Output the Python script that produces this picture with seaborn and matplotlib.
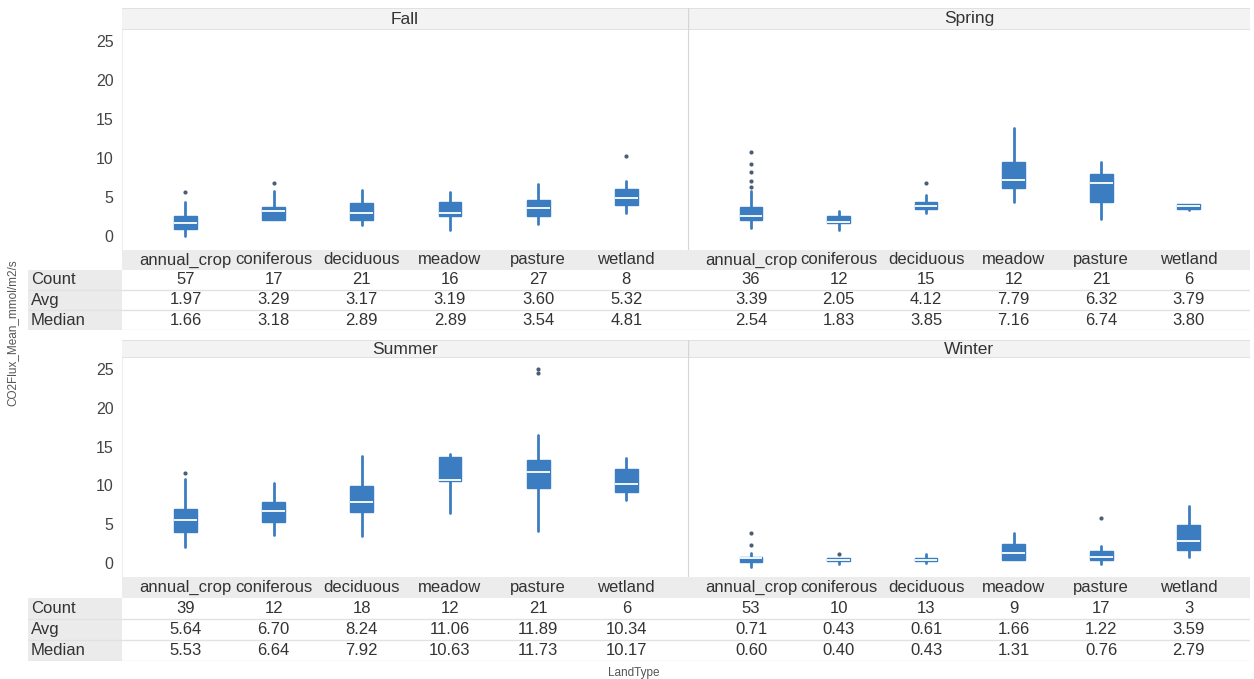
import matplotlib
matplotlib.use('Agg')
import matplotlib.pyplot as plt
from matplotlib.colors import ListedColormap
import numpy as np
import seaborn as sns

# %% DATA

land_types = ['annual_crop', 'coniferous', 'deciduous', 'meadow', 'pasture', 'wetland']
seasons = ['Fall', 'Spring', 'Summer', 'Winter']
row_names = ['Count', 'Avg', 'Median']

count_fall = [57, 17, 21, 16, 27, 8]
count_spring = [36, 12, 15, 12, 21, 6]
count_summer = [39, 12, 18, 12, 21, 6]
count_winter = [53, 10, 13, 9, 17, 3]

avg_fall = [1.97, 3.29, 3.17, 3.19, 3.60, 5.32]
avg_spring = [3.39, 2.05, 4.12, 7.79, 6.32, 3.79]
avg_summer = [5.64, 6.70, 8.24, 11.06, 11.89, 10.34]
avg_winter = [0.71, 0.43, 0.61, 1.66, 1.22, 3.59]

median_fall = [1.66, 3.18, 2.89, 2.89, 3.54, 4.81]
median_spring = [2.54, 1.83, 3.85, 7.16, 6.74, 3.80]
median_summer = [5.53, 6.64, 7.92, 10.63, 11.73, 10.17]
median_winter = [0.60, 0.40, 0.43, 1.31, 0.76, 2.79]

q1_fall = [0.9, 2.0, 2.05, 2.5, 2.5, 4.0]
q3_fall = [2.5, 3.7, 4.2, 4.3, 4.6, 6.0]
lo_fall = [0.0, 2.0, 1.4, 0.8, 1.5, 2.9]
hi_fall = [4.4, 5.8, 5.9, 5.6, 6.6, 7.0]
out_fall = [[5.6], [6.8], [], [], [], [10.2]]

q1_spring = [2.05, 1.7, 3.4, 6.2, 4.3, 3.5]
q3_spring = [3.75, 2.6, 4.3, 9.5, 8.0, 4.1]
lo_spring = [1.0, 0.8, 2.9, 4.4, 2.2, 3.3]
hi_spring = [5.7, 3.2, 5.3, 13.9, 9.5, 4.15]
out_spring = [[6.3, 7.05, 8.2, 9.2, 10.7], [], [6.8], [], [], []]

q1_summer = [4.05, 5.25, 6.6, 10.5, 9.6, 9.2]
q3_summer = [7.0, 7.9, 9.95, 13.7, 13.3, 12.05]
lo_summer = [2.1, 3.6, 3.5, 6.4, 4.1, 8.1]
hi_summer = [10.8, 10.3, 13.8, 14.0, 16.5, 13.5]
out_summer = [[11.6], [], [], [], [24.5, 25.0], []]

q1_winter = [0.15, 0.2, 0.3, 0.4, 0.35, 1.7]
q3_winter = [0.8, 0.6, 0.7, 2.5, 1.5, 4.9]
lo_winter = [-0.5, -0.1, 0.0, 0.4, -0.1, 0.8]
hi_winter = [1.35, 0.65, 1.15, 3.9, 2.25, 7.35]
out_winter = [[2.35, 3.85], [1.2], [], [], [5.8], []]

counts = [count_fall, count_spring, count_summer, count_winter]
avgs = [avg_fall, avg_spring, avg_summer, avg_winter]
medians = [median_fall, median_spring, median_summer, median_winter]
q1s = [q1_fall, q1_spring, q1_summer, q1_winter]
q3s = [q3_fall, q3_spring, q3_summer, q3_winter]
los = [lo_fall, lo_spring, lo_summer, lo_winter]
his = [hi_fall, hi_spring, hi_summer, hi_winter]
outs = [out_fall, out_spring, out_summer, out_winter]

# %% STYLE / LAYOUT

sns.set_style('white')
plt.rcParams['font.family'] = ['Liberation Sans', 'DejaVu Sans']

BLUE = '#3b7dc0'
TXT = '#333333'
W, H = 1254, 679
XLIM = (-0.72, 5.7)
YLIM = (-1.8, 26.4)

fig = plt.figure(figsize=(W / 100, H / 100), dpi=100)


def rect(x0, y0, x1, y1):
    # pixel box (top-left origin) -> figure fraction
    return [x0 / W, 1 - y1 / H, (x1 - x0) / W, (y1 - y0) / H]


def clean(ax):
    ax.set_xticks([])
    ax.set_yticks([])
    for s in ax.spines.values():
        s.set_visible(False)


col_x = [(122, 688), (688, 1250)]
row_y = [
    dict(head=(8, 30), plot=(30, 250), band=(250, 270), table=(270, 330)),
    dict(head=(340, 358), plot=(358, 577), band=(577, 598), table=(598, 661)),
]

# %% PLOT PANELS

for i, season in enumerate(seasons):
    r, c = divmod(i, 2)
    x0, x1 = col_x[c]
    ly = row_y[r]

    # header strip
    hax = fig.add_axes(rect(x0, ly['head'][0], x1, ly['head'][1]))
    hax.set_facecolor('#f3f3f3')
    clean(hax)
    hax.set_xlim(0, 1)
    hax.set_ylim(0, 1)
    hax.axhline(1, color='#dedede', lw=1.2)
    hax.axhline(0, color='#dedede', lw=1.2)
    hax.text(0.5, 0.5, season, ha='center', va='center', fontsize=12.5, color=TXT)
    if c == 1:
        hax.axvline(0, color='#d6d6d6', lw=1)

    # box plots
    ax = fig.add_axes(rect(x0, ly['plot'][0], x1, ly['plot'][1]))
    stats = [
        dict(med=medians[i][j], q1=q1s[i][j], q3=q3s[i][j],
             whislo=los[i][j], whishi=his[i][j], fliers=outs[i][j])
        for j in range(len(land_types))
    ]
    ax.bxp(
        stats,
        positions=range(len(land_types)),
        widths=0.26,
        patch_artist=True,
        showcaps=False,
        manage_ticks=False,
        boxprops=dict(facecolor=BLUE, edgecolor=BLUE, linewidth=1),
        whiskerprops=dict(color=BLUE, linewidth=2),
        medianprops=dict(color='white', linewidth=1.3),
        flierprops=dict(marker='o', markersize=3, markerfacecolor='#4d5d73',
                        markeredgecolor='none'),
    )
    ax.set_xlim(XLIM)
    ax.set_ylim(YLIM)
    ax.set_xticks([])
    ax.set_yticks(range(0, 30, 5))
    ax.tick_params(axis='y', length=0, labelsize=11.5, labelcolor='#444444', pad=6)
    if c == 1:
        ax.set_yticklabels([])
    sns.despine(ax=ax, left=True, bottom=True)
    ax.spines['left'].set_visible(True)
    ax.spines['left'].set_color('#d6d6d6' if c == 1 else '#eeeeee')

    # category label band
    bax = fig.add_axes(rect(x0, ly['band'][0], x1, ly['band'][1]))
    bax.set_facecolor('#ececec')
    clean(bax)
    bax.set_xlim(XLIM)
    bax.set_ylim(0, 1)
    for j, name in enumerate(land_types):
        bax.text(j, 0.5, name, ha='center', va='center', fontsize=12, color=TXT)

    # summary table
    tax = fig.add_axes(rect(x0, ly['table'][0], x1, ly['table'][1]))
    values = np.array([counts[i], avgs[i], medians[i]], dtype=float)
    annot = np.array([
        [str(v) for v in counts[i]],
        [f'{v:.2f}' for v in avgs[i]],
        [f'{v:.2f}' for v in medians[i]],
    ])
    sns.heatmap(values, annot=annot, fmt='', cmap=ListedColormap(['white']),
                cbar=False, ax=tax, annot_kws={'fontsize': 12, 'color': TXT})
    tax.set_xlim(XLIM[0] + 0.5, XLIM[1] + 0.5)
    tax.set_xticks([])
    tax.set_yticks([])
    for yy in (1, 2, 3):
        tax.axhline(yy, color='#e2e2e2', lw=1)

    # row headers
    if c == 0:
        rax = fig.add_axes(rect(28, ly['table'][0], 122, ly['table'][1]))
        rax.set_facecolor('#ebebeb')
        clean(rax)
        rax.set_xlim(0, 1)
        rax.set_ylim(3, 0)
        for k, name in enumerate(row_names):
            rax.text(0.03, k + 0.5, name, ha='left', va='center', fontsize=12, color=TXT)
        for yy in (1, 2, 3):
            rax.axhline(yy, color='#e2e2e2', lw=1)

fig.text(12 / W, 1 - 333 / H, 'CO2Flux_Mean_mmol/m2/s', rotation=90,
         ha='center', va='center', fontsize=8.5, color='#555555')
fig.text(634 / W, 1 - 673 / H, 'LandType', ha='center', va='center',
         fontsize=8.5, color='#555555')

fig.savefig('out.png', dpi=100)
